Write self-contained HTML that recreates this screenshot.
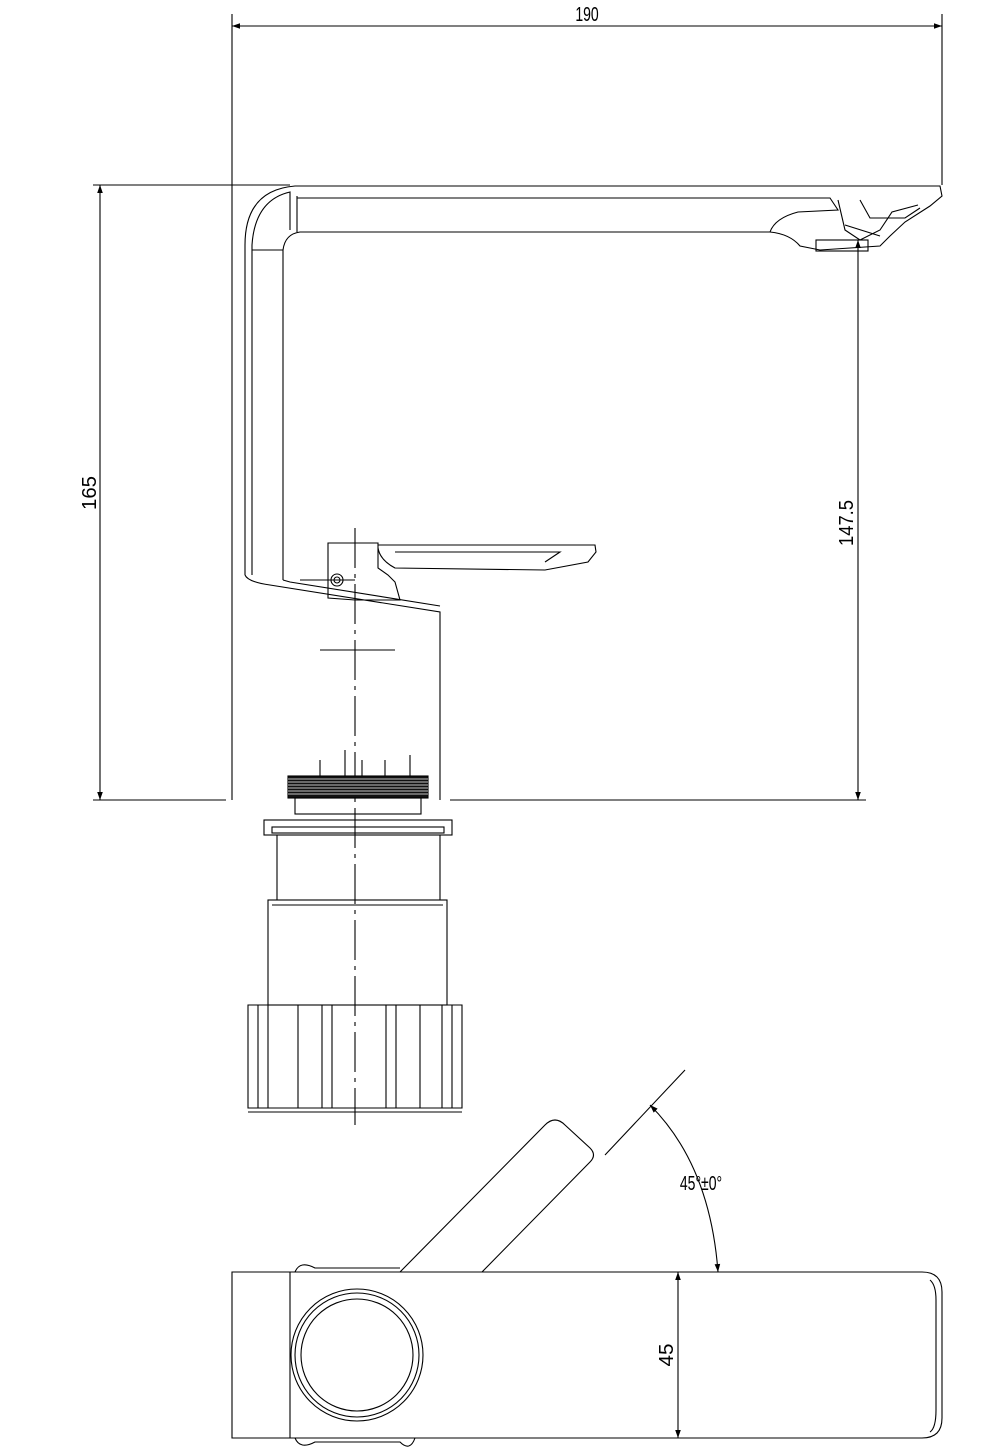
<!DOCTYPE html>
<html><head><meta charset="utf-8"><style>body{margin:0;background:#fff}svg{display:block}text{font-family:"Liberation Sans Narrow","Liberation Sans",sans-serif;font-size:20px;fill:#000}</style></head><body>
<svg width="984" height="1452" viewBox="0 0 984 1452" xmlns="http://www.w3.org/2000/svg" fill="none" stroke="#000" stroke-width="1.1">
<defs><marker id="a" viewBox="0 0 10 10" refX="10" refY="5" markerWidth="14" markerHeight="8" orient="auto-start-reverse" markerUnits="userSpaceOnUse"><path d="M0 1.5L10 5L0 8.5z" fill="#000" stroke="none"/></marker></defs>
<!-- top dim -->
<line x1="232" y1="14" x2="232" y2="800"/><line x1="942" y1="14" x2="942" y2="185"/>
<line x1="232" y1="26" x2="942" y2="26" marker-start="url(#a)" marker-end="url(#a)"/>
<text transform="translate(587 21) scale(0.7 1)" text-anchor="middle" stroke="none">190</text>
<!-- left dim -->
<line x1="93" y1="185" x2="290" y2="185"/><line x1="93" y1="800" x2="226" y2="800"/>
<line x1="100" y1="185" x2="100" y2="800" marker-start="url(#a)" marker-end="url(#a)"/>
<text transform="translate(96 493) rotate(-90)" text-anchor="middle" stroke="none" textLength="34" lengthAdjust="spacingAndGlyphs">165</text>
<!-- right dim -->
<line x1="450" y1="800" x2="866" y2="800"/>
<line x1="858" y1="240" x2="858" y2="800" marker-start="url(#a)" marker-end="url(#a)"/>
<text transform="translate(853 523) rotate(-90)" text-anchor="middle" stroke="none" textLength="46" lengthAdjust="spacingAndGlyphs">147.5</text>
<!-- body -->
<path d="M245 575 L245 245 Q245 190 295 186 L940 186 L942 196 L930 206 L905 222 L890 236 L880 246 L820 250 L800 246 Q790 234 770 232 L300 232 Q285 234 283 250 L283 580"/>
<path d="M252 575 L252 245 Q255 200 290 192 L290 230"/>
<line x1="252" y1="250" x2="283" y2="250"/>
<path d="M297 196 L297 232 M297 198 L830 198 L838 210 L798 212 Q775 218 770 232"/>
<path d="M838 200 L845 230 L860 240 L880 230 L892 212 L918 205 M860 200 L870 218 L905 218 L920 208 M845 225 L880 236"/>
<rect x="816" y="240" width="52" height="11"/>
<path d="M245 575 Q248 582 270 585 L440 612 L440 800"/>
<path d="M283 580 L290 582 L440 606"/>
<!-- handle -->
<path d="M328 543 L378 543 L378 568 L388 575 L395 582 L400 600 L355 600 L328 598 Z"/>
<path d="M378 545 L595 545 L596 552 L588 562 L545 570 L395 568 Q380 560 378 548"/>
<path d="M395 552 L560 552 L545 562"/>
<circle cx="337" cy="580" r="6"/><circle cx="337" cy="580" r="3"/>
<line x1="300" y1="580" x2="355" y2="580"/>
<line x1="355" y1="528" x2="355" y2="1125" stroke-dasharray="40 6 4 6"/>
<line x1="320" y1="650" x2="395" y2="650"/>
<!-- thread -->
<rect x="288" y="776" width="140" height="22" fill="#111"/>
<path d="M288 779H428M288 782H428M288 785H428M288 788H428M288 791H428M288 794H428" stroke="#fff" stroke-width="0.8"/>
<rect x="295" y="798" width="126" height="16"/>
<path d="M320 760V776M345 750V776M362 760V776M385 760V776M410 755V776"/>
<!-- flange etc -->
<rect x="264" y="820" width="188" height="15"/>
<rect x="272" y="827" width="172" height="6"/>
<path d="M277 835 L277 900 M440 835 L440 900"/>
<rect x="268" y="900" width="179" height="105"/>
<line x1="272" y1="905" x2="443" y2="905"/>
<!-- nut -->
<path d="M248 1005 L248 1108 L462 1108 L462 1005 Z"/>
<path d="M258 1005V1108M268 1005V1108M298 1005V1108M322 1005V1108M332 1005V1108M386 1005V1108M396 1005V1108M420 1005V1108M442 1005V1108M452 1005V1108"/>
<path d="M248 1112 L462 1112"/>
<!-- plan view -->
<path d="M232 1272 L922 1272 Q942 1272 942 1292 L942 1418 Q942 1438 922 1438 L232 1438 Z"/>
<path d="M930 1280 Q936 1285 936 1300 L936 1410 Q936 1428 930 1432"/>
<line x1="290" y1="1272" x2="290" y2="1438"/>
<circle cx="357" cy="1355" r="66"/><circle cx="357" cy="1355" r="62"/><circle cx="357" cy="1355" r="56"/>
<path d="M295 1272 Q300 1260 315 1268 L400 1268 M295 1438 Q300 1450 315 1442 L400 1442 Q410 1452 415 1438"/>
<path d="M400 1272 L545 1125 Q555 1115 565 1125 L590 1148 Q597 1155 590 1162 L482 1272"/>
<line x1="605" y1="1155" x2="685" y2="1070"/>
<path d="M650 1105 Q710 1165 718 1272" marker-start="url(#a)" marker-end="url(#a)"/>
<text transform="translate(701 1190) scale(0.7 1)" text-anchor="middle" stroke="none">45°±0°</text>
<line x1="678" y1="1272" x2="678" y2="1438" marker-start="url(#a)" marker-end="url(#a)"/>
<text transform="translate(673 1355) rotate(-90)" text-anchor="middle" stroke="none" textLength="23" lengthAdjust="spacingAndGlyphs">45</text>
</svg>
</body></html>
